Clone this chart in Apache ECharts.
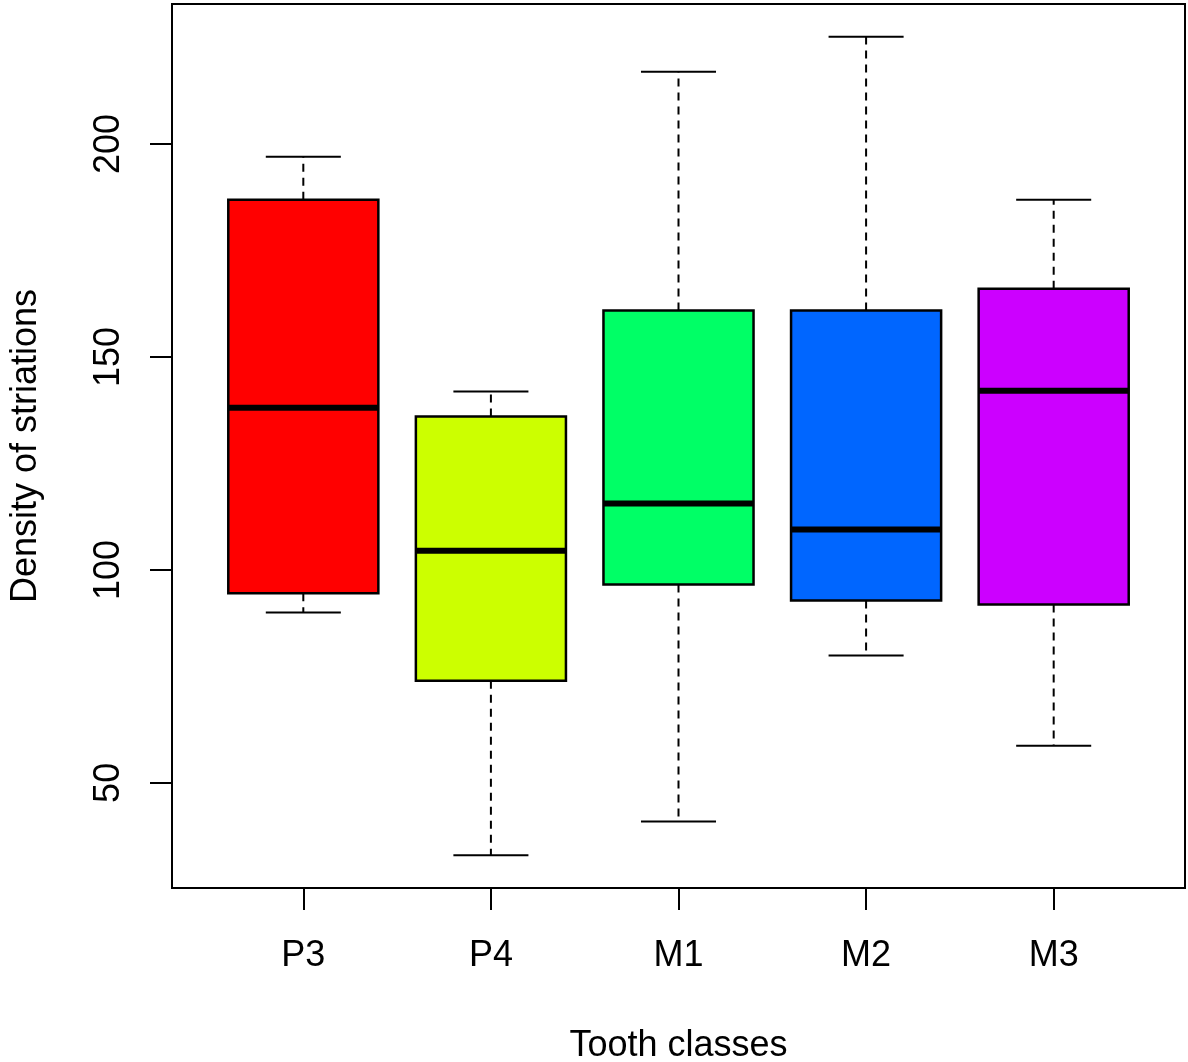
<!DOCTYPE html>
<html>
<head>
<meta charset="utf-8">
<script src="https://cdn.jsdelivr.net/npm/echarts@6/dist/echarts.min.js"></script>
<style>
    html, body { margin: 0; padding: 0; background: #fff; }
    #chart { width: 1188px; height: 1062px; }
</style>
</head>
<body>
<div id="chart"></div>
<script>
// tooth classes and box statistics
const categories = ['P3', 'P4', 'M1', 'M2', 'M3'];
const lowerWhisker = [90.0, 33.0, 40.9, 79.9, 58.7];
const q1 = [94.5, 74.0, 96.6, 92.8, 91.9];
const median = [138.1, 104.5, 115.6, 109.5, 142.1];
const q3 = [186.9, 136.0, 160.9, 160.9, 166.0];
const upperWhisker = [197.0, 141.9, 217.0, 225.2, 186.9];
const boxColors = ['#FF0000', '#CCFF00', '#00FF66', '#0066FF', '#CC00FF'];
const yTicks = [50, 100, 150, 200];
const xTicks = [1, 2, 3, 4, 5];

let myChart = echarts.init(document.getElementById('chart'));

// R style: axis range = data range + 4% each side
const dataMin = Math.min(...lowerWhisker);
const dataMax = Math.max(...upperWhisker);
const pad = (dataMax - dataMin) * 0.04;

const boxData = categories.map((c, i) => [i + 1, lowerWhisker[i], q1[i], median[i], q3[i], upperWhisker[i], i]);

function renderBox(params, api) {
    let x = api.value(0);
    let pLo = api.coord([x, api.value(1)]);
    let pQ1 = api.coord([x, api.value(2)]);
    let pMed = api.coord([x, api.value(3)]);
    let pQ3 = api.coord([x, api.value(4)]);
    let pHi = api.coord([x, api.value(5)]);
    let unit = api.size([1, 0])[0];
    let half = unit * 0.4;
    let capHalf = unit * 0.2;
    let cx = pMed[0];
    let dashed = { stroke: '#000', lineWidth: 2, lineDash: [8, 6] };
    let solid = { stroke: '#000', lineWidth: 2 };
    return {
        type: 'group',
        children: [
            { type: 'line', shape: { x1: cx, y1: pQ3[1], x2: cx, y2: pHi[1] }, style: dashed },
            { type: 'line', shape: { x1: cx, y1: pQ1[1], x2: cx, y2: pLo[1] }, style: dashed },
            { type: 'line', shape: { x1: cx - capHalf, y1: pHi[1], x2: cx + capHalf, y2: pHi[1] }, style: solid },
            { type: 'line', shape: { x1: cx - capHalf, y1: pLo[1], x2: cx + capHalf, y2: pLo[1] }, style: solid },
            {
                type: 'rect',
                shape: { x: cx - half, y: pQ3[1], width: half * 2, height: pQ1[1] - pQ3[1] },
                style: { fill: boxColors[api.value(6)], stroke: '#000', lineWidth: 2.5 }
            },
            { type: 'line', shape: { x1: cx - half, y1: pMed[1], x2: cx + half, y2: pMed[1] }, style: { stroke: '#000', lineWidth: 6 } }
        ]
    };
}

let option = {
    animation: false,
    backgroundColor: '#fff',
    textStyle: { fontFamily: 'Liberation Sans, Arial, sans-serif' },
    grid: {
        left: 172,
        right: 3,
        top: 4,
        bottom: 174,
        outerBoundsMode: 'none',
        containLabel: false,
        show: true,
        borderColor: '#000',
        borderWidth: 2,
        backgroundColor: 'transparent'
    },
    xAxis: {
        type: 'value',
        min: 0.3,
        max: 5.7,
        name: 'Tooth classes',
        nameLocation: 'middle',
        nameGap: 140,
        nameTextStyle: { color: '#000', fontSize: 36, fontFamily: 'Liberation Sans' },
        axisLine: { show: false },
        splitLine: { show: false },
        axisTick: {
            show: true,
            customValues: xTicks,
            length: 22,
            lineStyle: { color: '#000', width: 2 }
        },
        axisLabel: {
            customValues: xTicks,
            color: '#000',
            fontSize: 36,
            fontFamily: 'Liberation Sans',
            margin: 50,
            formatter: (v) => categories[Math.round(v) - 1]
        }
    },
    yAxis: {
        type: 'value',
        min: dataMin - pad,
        max: dataMax + pad,
        name: 'Density of striations',
        nameLocation: 'middle',
        nameGap: 128,
        nameTextStyle: { color: '#000', fontSize: 36, fontFamily: 'Liberation Sans' },
        axisLine: { show: false },
        splitLine: { show: false },
        axisTick: {
            show: true,
            customValues: yTicks,
            length: 22,
            lineStyle: { color: '#000', width: 2 }
        },
        axisLabel: {
            customValues: yTicks,
            color: '#000',
            fontSize: 36,
            fontFamily: 'Liberation Sans',
            rotate: 90,
            margin: 45
        }
    },
    series: [
        {
            type: 'custom',
            renderItem: renderBox,
            data: boxData,
            encode: { x: 0, y: [1, 5] },
            silent: true
        }
    ]
};
myChart.setOption(option);
</script>
</body>
</html>
